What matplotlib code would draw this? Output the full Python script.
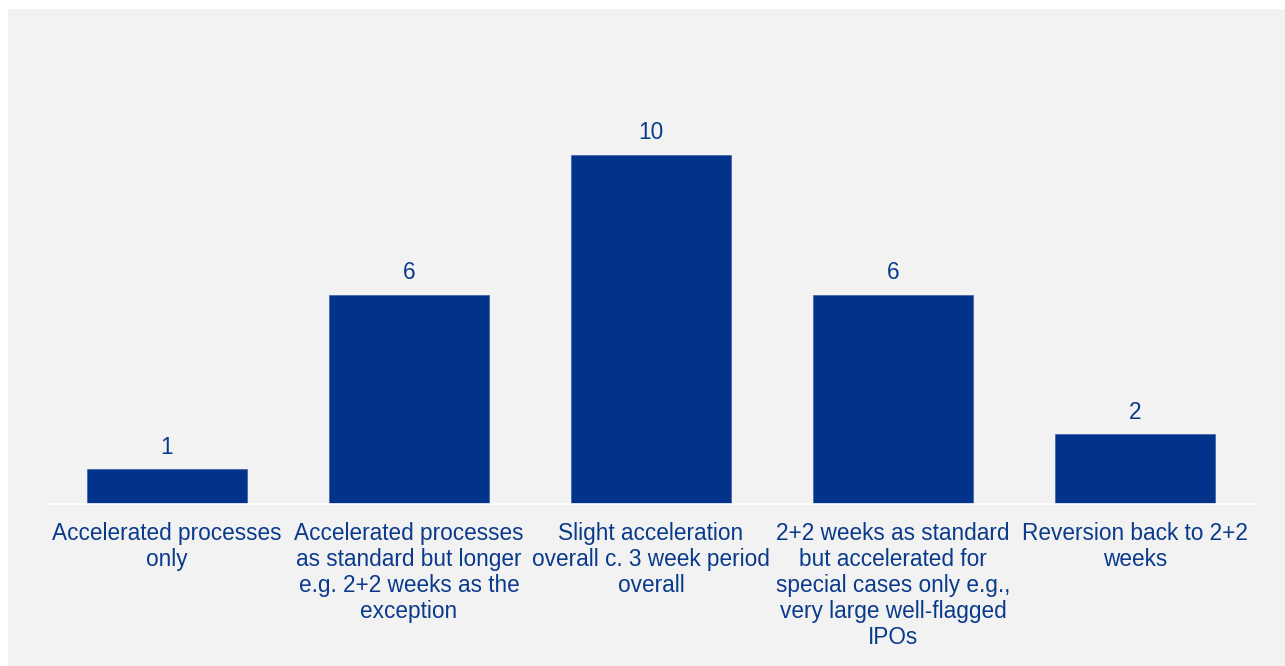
import matplotlib.pyplot as plt
import matplotlib
from matplotlib.patches import Rectangle

matplotlib.rcParams.update({'font.size': 16.3, 'font.family': ['Liberation Sans', 'DejaVu Sans']})

### Data ###
categories = [
    'Accelerated processes\nonly',
    'Accelerated processes\nas standard but longer\ne.g. 2+2 weeks as the\nexception',
    'Slight acceleration\noverall c. 3 week period\noverall',
    '2+2 weeks as standard\nbut accelerated for\nspecial cases only e.g.,\nvery large well-flagged\nIPOs',
    'Reversion back to 2+2\nweeks',
]
counts = [1, 6, 10, 6, 2]

bar_color = '#003389'
text_color = '#0A3A8C'
bg_color = '#F2F2F2'

### Plot ###
W, H = 1285, 666
fig = plt.figure(figsize=(W / 100, H / 100), dpi=100, facecolor='white')
# grey panel, white margin at top and left
panel = Rectangle((8 / W, 0), 1, 1 - 9 / H, transform=fig.transFigure,
                  facecolor=bg_color, edgecolor='none', zorder=-10)
fig.add_artist(panel)

ax = fig.add_axes([46 / W, (H - 504) / H, (1256 - 46) / W, (504 - 85) / H])
ax.patch.set_visible(False)

x = list(range(len(categories)))
bars = ax.bar(x, counts, width=0.665, color=bar_color, edgecolor='#3D5FA8', linewidth=0.5, zorder=2)
ax.bar_label(bars, labels=[str(c) for c in counts], padding=7.5, color=text_color)

ax.set_xlim(-0.5, 4.5)
ax.set_ylim(0, 12)
ax.set_xticks(x)
ax.set_xticklabels(categories, color=text_color, linespacing=1.17)
ax.tick_params(axis='x', length=0, pad=13)
ax.set_yticks([])
for side in ['top', 'right', 'left']:
    ax.spines[side].set_visible(False)
ax.spines['bottom'].set_color('white')
ax.spines['bottom'].set_linewidth(1.2)
ax.spines['bottom'].set_zorder(3)

plt.savefig('out.png', dpi=100)
